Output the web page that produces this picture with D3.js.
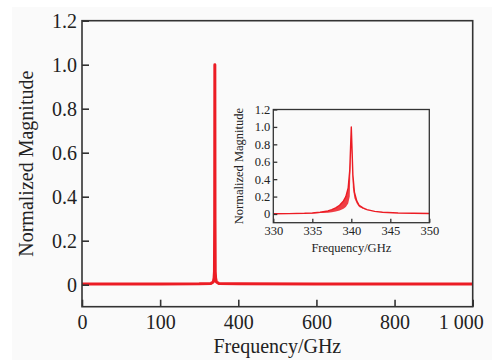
<!DOCTYPE html>
<html>
<head>
<meta charset="utf-8">
<script src="https://cdn.jsdelivr.net/npm/d3@7"></script>
<style>
  body { margin: 0; background: #fff; }
  svg text { font-family: "Liberation Serif", "Times New Roman", serif; fill: #222; }
</style>
</head>
<body>
<svg id="chart" width="494" height="360"></svg>
<script>
// main spectrum (0 - 1000 GHz)
var mainFreq = [0, 100, 200, 300, 330, 336, 338, 339, 339.6, 340, 340.4, 341, 342, 344, 350, 400, 600, 800, 1000]
var mainMag  = [0.003, 0.003, 0.003, 0.004, 0.006, 0.012, 0.03, 0.06, 0.3, 1.0, 0.3, 0.06, 0.03, 0.012, 0.006, 0.004, 0.003, 0.003, 0.003]
var mainXTicks = [0, 200, 400, 600, 800, 1000]
var mainXLabels = ['0', '100', '400', '600', '800', '1 000']
var mainYTicks = [0, 0.2, 0.4, 0.6, 0.8, 1.0, 1.2]

// inset zoom (330 - 350 GHz), upper curve and lower edge of the oscillating band
var insetFreq  = [330, 332, 334, 335, 336, 337, 337.5, 338, 338.5, 339, 339.3, 339.6, 339.8, 340, 340.2, 340.4, 340.7, 341, 341.5, 342, 343, 344, 346, 348, 350]
var insetUpper = [0.002, 0.004, 0.008, 0.012, 0.02, 0.035, 0.05, 0.07, 0.1, 0.15, 0.2, 0.3, 0.5, 1.0, 0.45, 0.25, 0.15, 0.1, 0.07, 0.05, 0.03, 0.02, 0.012, 0.008, 0.005]
var insetLower = [0.002, 0.003, 0.005, 0.007, 0.01, 0.015, 0.02, 0.03, 0.04, 0.06, 0.08, 0.12, 0.2, 0.9, 0.3, 0.18, 0.12, 0.08, 0.06, 0.045, 0.028, 0.019, 0.011, 0.007, 0.005]
var insetXTicks = [330, 335, 340, 345, 350]
var insetYTicks = [0, 0.2, 0.4, 0.6, 0.8, 1.0, 1.2]

var red = '#ec1c24'
var svg = d3.select('#chart')

svg.append('rect').attr('x', 12).attr('y', 7).attr('width', 480).attr('height', 353).attr('fill', '#fafafa')

function drawPanel(o){
  var x = d3.scaleLinear().domain(o.xDomain).range([o.left, o.right])
  var y = d3.scaleLinear().domain([-0.1, 1.2]).range([o.bottom, o.top])
  var g = svg.append('g')

  if (o.lower){
    var area = d3.area().x((d, i) => x(o.freq[i])).y0((d, i) => y(o.lower[i])).y1(d => y(d))
    g.append('path').datum(o.mag).attr('d', area).attr('fill', red).attr('opacity', 0.85)
  }
  var line = d3.line().x((d, i) => x(o.freq[i])).y(d => y(d))
  g.append('path').datum(o.mag).attr('d', line)
    .attr('fill', 'none').attr('stroke', red).attr('stroke-width', o.lw).attr('stroke-linejoin', 'round')

  var xAxis = d3.axisBottom(x).tickValues(o.xTicks).tickSizeInner(-o.tick).tickSizeOuter(0)
    .tickPadding(o.tick + o.xPad)
  if (o.xLabels) xAxis.tickFormat((d, i) => o.xLabels[i])
  var gx = g.append('g').attr('transform', `translate(0,${o.bottom})`).call(xAxis)
  var yAxis = d3.axisLeft(y).tickValues(o.yTicks).tickSizeInner(-o.tick).tickSizeOuter(0)
    .tickPadding(o.tick + o.yPad).tickFormat(d => d == 0 ? '0' : d3.format('.1f')(d))
  var gy = g.append('g').attr('transform', `translate(${o.left},0)`).call(yAxis)
  ;[gx, gy].forEach(a => {
    a.select('.domain').remove()
    a.selectAll('line').attr('stroke', '#333').attr('stroke-width', o.frameW)
    a.selectAll('text').attr('font-size', o.fs).attr('font-family', null).attr('fill', '#222')
  })
  if (o.lastDx) gx.selectAll('.tick:last-of-type text').attr('dx', o.lastDx)

  g.append('rect').attr('x', o.left).attr('y', o.top)
    .attr('width', o.right - o.left).attr('height', o.bottom - o.top)
    .attr('fill', 'none').attr('stroke', '#333').attr('stroke-width', o.frameW)

  g.append('text').attr('x', (o.left + o.right) / 2).attr('y', o.xLabelY)
    .attr('text-anchor', 'middle').attr('font-size', o.fs).text('Frequency/GHz')
  g.append('text').attr('transform', `translate(${o.yLabelX},${(o.top + o.bottom) / 2}) rotate(-90)`)
    .attr('text-anchor', 'middle').attr('font-size', o.fs).text('Normalized Magnitude')
  return g
}

drawPanel({
  xDomain: [0, 1000], left: 82, right: 472.7, top: 20.7, bottom: 306.7,
  freq: mainFreq, mag: mainMag, lw: 3,
  xTicks: mainXTicks, xLabels: mainXLabels, yTicks: mainYTicks,
  tick: 7, xPad: 1, yPad: -2, fs: 20, frameW: 1.6, lastDx: -12,
  xLabelY: 353, yLabelX: 33
})

drawPanel({
  xDomain: [330, 350], left: 273.3, right: 429.3, top: 109.5, bottom: 222.7,
  freq: insetFreq, mag: insetUpper, lower: insetLower, lw: 1.4,
  xTicks: insetXTicks, yTicks: insetYTicks,
  tick: 4, xPad: -1, yPad: -1, fs: 12.5, frameW: 1.3,
  xLabelY: 252, yLabelX: 243
})
</script>
</body>
</html>
